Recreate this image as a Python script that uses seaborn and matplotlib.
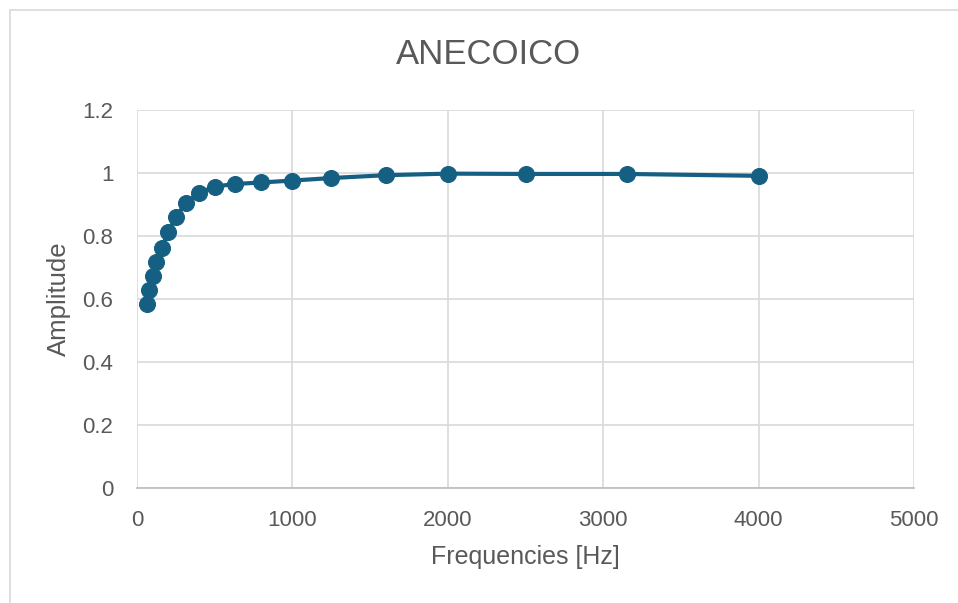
import matplotlib
matplotlib.use("Agg")
import matplotlib.pyplot as plt
import seaborn as sns
import pandas as pd
from matplotlib.patches import Rectangle

frequencies = [63, 80, 100, 125, 160, 200, 250, 315, 400, 500, 630, 800,
               1000, 1250, 1600, 2000, 2500, 3150, 4000]
amplitude = [0.583, 0.628, 0.672, 0.717, 0.763, 0.812, 0.860, 0.905, 0.937,
             0.957, 0.965, 0.970, 0.976, 0.984, 0.993, 0.998, 0.997, 0.997, 0.991]
x_ticks = [0, 1000, 2000, 3000, 4000, 5000]
y_ticks = [0, 0.2, 0.4, 0.6, 0.8, 1, 1.2]
y_tick_labels = ["0", "0.2", "0.4", "0.6", "0.8", "1", "1.2"]

df = pd.DataFrame({"Frequency": frequencies, "Amplitude": amplitude})

sns.set_style("white")
plt.rcParams["font.family"] = ["Liberation Sans", "DejaVu Sans"]

text_color = "#595959"
grid_color = "#D9D9D9"
line_color = "#156082"

fig = plt.figure(figsize=(9.58, 6.03), dpi=100)
fig.patch.set_facecolor("white")
fig.patches.append(Rectangle((10/958, -0.1), 1.2, 1 - 10/603 + 0.1,
                             transform=fig.transFigure, fill=False,
                             edgecolor="#D9D9D9", linewidth=1.2))
ax = fig.add_axes([137/958, 1 - 488/603, (914 - 137)/958, (488 - 110)/603])

sns.lineplot(data=df, x="Frequency", y="Amplitude", ax=ax, color=line_color,
             linewidth=3.0, marker="o", markersize=11.5,
             markeredgecolor=line_color, markerfacecolor=line_color)

ax.set_xlim(0, 5000)
ax.set_ylim(0, 1.2)
ax.set_xticks(x_ticks)
ax.set_yticks(y_ticks)
ax.set_yticklabels(y_tick_labels)
ax.grid(True, color=grid_color, linewidth=1.2)
ax.set_axisbelow(True)
for s in ["top", "right", "left"]:
    ax.spines[s].set_visible(False)
ax.spines["bottom"].set_color("#BFBFBF")
ax.spines["bottom"].set_linewidth(1.3)
ax.tick_params(axis="both", length=0, labelsize=16, labelcolor=text_color)
ax.tick_params(axis="x", pad=16)
ax.tick_params(axis="y", pad=17)
ax.set_xlabel("Frequencies [Hz]", fontsize=18, color=text_color, labelpad=10)
ax.set_ylabel("Amplitude", fontsize=18.5, color=text_color, labelpad=8)
fig.text(488/958, 1 - 55/603, "ANECOICO", ha="center", va="center",
         fontsize=25, color=text_color)

fig.savefig("out.png", dpi=100, facecolor="white")
